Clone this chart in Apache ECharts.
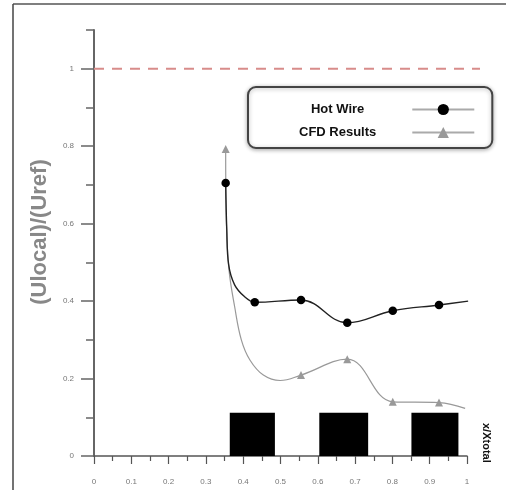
<!DOCTYPE html>
<html>
<head>
<meta charset="utf-8">
<script src="https://cdn.jsdelivr.net/npm/echarts@6/dist/echarts.min.js"></script>
<style>
html,body{margin:0;padding:0;background:#fff;}
#chart{width:506px;height:490px;}
</style>
</head>
<body>
<div id="chart"></div>
<script>
// ---- data ----
const xTickValues = [0, 0.1, 0.2, 0.3, 0.4, 0.5, 0.6, 0.7, 0.8, 0.9, 1];
const yTickValues = [0, 0.2, 0.4, 0.6, 0.8, 1];
const yMinorTickValues = [0.1, 0.3, 0.5, 0.7, 0.9, 1.1];

// Hot Wire (markers flagged with 1, curve-shape points with 0)
const hotWireX = [0.353, 0.356, 0.361, 0.377, 0.404, 0.431, 0.555, 0.679, 0.801, 0.925, 1.003];
const hotWireY = [0.705, 0.584, 0.494, 0.442, 0.411, 0.397, 0.403, 0.344, 0.375, 0.390, 0.400];
const hotWireMarked = [1, 0, 0, 0, 0, 1, 1, 1, 1, 1, 1];

// CFD Results
const cfdX = [0.353, 0.355, 0.362, 0.377, 0.395, 0.418, 0.454, 0.499, 0.555, 0.679, 0.801, 0.925, 0.995];
const cfdY = [0.793, 0.600, 0.480, 0.386, 0.300, 0.248, 0.209, 0.195, 0.209, 0.250, 0.140, 0.138, 0.123];
const cfdMarked = [1, 0, 0, 0, 0, 0, 0, 0, 1, 1, 1, 1, 0];

// reference level
const refX = [0, 1.038];
const refY = [1, 1];

// black blocks along the bottom
const blockStart = [0.364, 0.604, 0.851];
const blockEnd = [0.485, 0.735, 0.977];
const blockHeight = [0.112, 0.112, 0.112];

// ---- build ----
const FONT = 'Liberation Sans, Arial, sans-serif';
function pts(xs, ys, marks) {
  return xs.map((x, i) => marks && !marks[i] ? { value: [x, ys[i]], symbol: 'none' } : [x, ys[i]]);
}
const fmt = v => (v === 0 ? '0' : v === 1 ? '1' : v.toFixed(1));

const chart = echarts.init(document.getElementById('chart'), null, { renderer: 'canvas' });
chart.setOption({
  animation: false,
  backgroundColor: '#fff',
  grid: [
    { left: 94, right: 39, top: 30, bottom: 34 },
    { left: 94, right: 26, top: 30, bottom: 34 }
  ],
  xAxis: [
    {
      type: 'value', gridIndex: 0, min: 0, max: 1, interval: 0.1,
      axisLine: { show: true, lineStyle: { color: '#555', width: 1.5 } },
      axisTick: { show: true, length: 8, lineStyle: { color: '#555', width: 1.2 } },
      minorTick: { show: true, splitNumber: 2, length: 5, lineStyle: { color: '#555', width: 1.2 } },
      splitLine: { show: false },
      axisLabel: { customValues: xTickValues, margin: 22, fontSize: 8, color: '#777', fontFamily: FONT, formatter: fmt }
    },
    {
      type: 'value', gridIndex: 1, min: 0, max: 1.038, show: false
    }
  ],
  yAxis: [
    {
      type: 'value', gridIndex: 0, min: 0, max: 1.1,
      axisLine: { show: true, lineStyle: { color: '#666', width: 2 } },
      axisTick: { show: true, customValues: yTickValues, length: 13, lineStyle: { color: '#666', width: 1.5 } },
      splitLine: { show: false },
      axisLabel: { customValues: yTickValues, margin: 20, fontSize: 8, color: '#777', fontFamily: FONT, formatter: fmt }
    },
    {
      type: 'value', gridIndex: 0, min: 0, max: 1.1, position: 'left', offset: 0,
      axisLine: { show: false },
      axisTick: { show: true, customValues: yMinorTickValues, length: 8, lineStyle: { color: '#666', width: 1.5 } },
      axisLabel: { show: false },
      splitLine: { show: false }
    },
    {
      type: 'value', gridIndex: 1, min: 0, max: 1.1, show: false
    }
  ],
  legend: {
    left: 248, top: 87, orient: 'vertical', align: 'right',
    itemWidth: 62, itemHeight: 14, itemGap: 10,
    padding: [16, 17, 9, 51],
    borderColor: '#444', borderWidth: 2, borderRadius: 8,
    backgroundColor: '#fff',
    shadowBlur: 4, shadowColor: 'rgba(0,0,0,0.3)', shadowOffsetY: 1,
    textStyle: { fontWeight: 'bold', fontSize: 13, fontFamily: FONT, color: '#111' },
    lineStyle: { color: '#aaa', width: 2 },
    data: [
      { name: 'Hot Wire', textStyle: { padding: [0, 43, 0, 0] } },
      { name: 'CFD Results', textStyle: { padding: [0, 31, 0, 0] } }
    ]
  },
  graphic: [
    { type: 'line', shape: { x1: 13, y1: 4, x2: 506, y2: 4 }, style: { stroke: '#555', lineWidth: 1.5 }, silent: true },
    { type: 'line', shape: { x1: 13, y1: 4, x2: 13, y2: 490 }, style: { stroke: '#444', lineWidth: 1.5 }, silent: true },
    {
      type: 'text', x: 40, y: 232, rotation: Math.PI / 2,
      style: { text: '(Ulocal)/(Uref)', fill: '#888', fontSize: 22, fontWeight: 'bold', fontFamily: FONT, align: 'center', verticalAlign: 'middle' }
    },
    {
      type: 'text', x: 486, y: 423, rotation: -Math.PI / 2,
      style: { text: 'x/Xtotal', fill: '#111', fontSize: 11, fontWeight: 'bold', fontFamily: FONT, align: 'left', verticalAlign: 'middle' }
    }
  ],
  series: [
    {
      name: 'ref', type: 'line', xAxisIndex: 1, yAxisIndex: 2, silent: true,
      data: refX.map((x, i) => [x, refY[i]]),
      symbol: 'none',
      lineStyle: { color: '#d88c8a', width: 2, type: [10, 8] },
      z: 1
    },
    {
      name: 'blocks', type: 'custom', silent: true,
      data: blockStart.map((s, i) => [s, blockEnd[i], blockHeight[i]]),
      encode: { x: [0, 1], y: 2 },
      renderItem: function (params, api) {
        const p0 = api.coord([api.value(0), 0]);
        const p1 = api.coord([api.value(1), api.value(2)]);
        return { type: 'rect', shape: { x: p0[0], y: p1[1], width: p1[0] - p0[0], height: p0[1] - p1[1] }, style: { fill: '#000' } };
      },
      z: 2
    },
    {
      name: 'CFD Results', type: 'line', smooth: 0.4,
      data: pts(cfdX, cfdY, cfdMarked),
      symbol: 'triangle', symbolSize: 8, showAllSymbol: true,
      itemStyle: { color: '#999' },
      lineStyle: { color: '#999', width: 1.2 },
      z: 3
    },
    {
      name: 'Hot Wire', type: 'line', smooth: 0.4,
      data: pts(hotWireX, hotWireY, hotWireMarked),
      symbol: 'circle', symbolSize: 8.5, showAllSymbol: true,
      itemStyle: { color: '#000' },
      lineStyle: { color: '#222', width: 1.4 },
      z: 4
    }
  ]
});
</script>
</body>
</html>
